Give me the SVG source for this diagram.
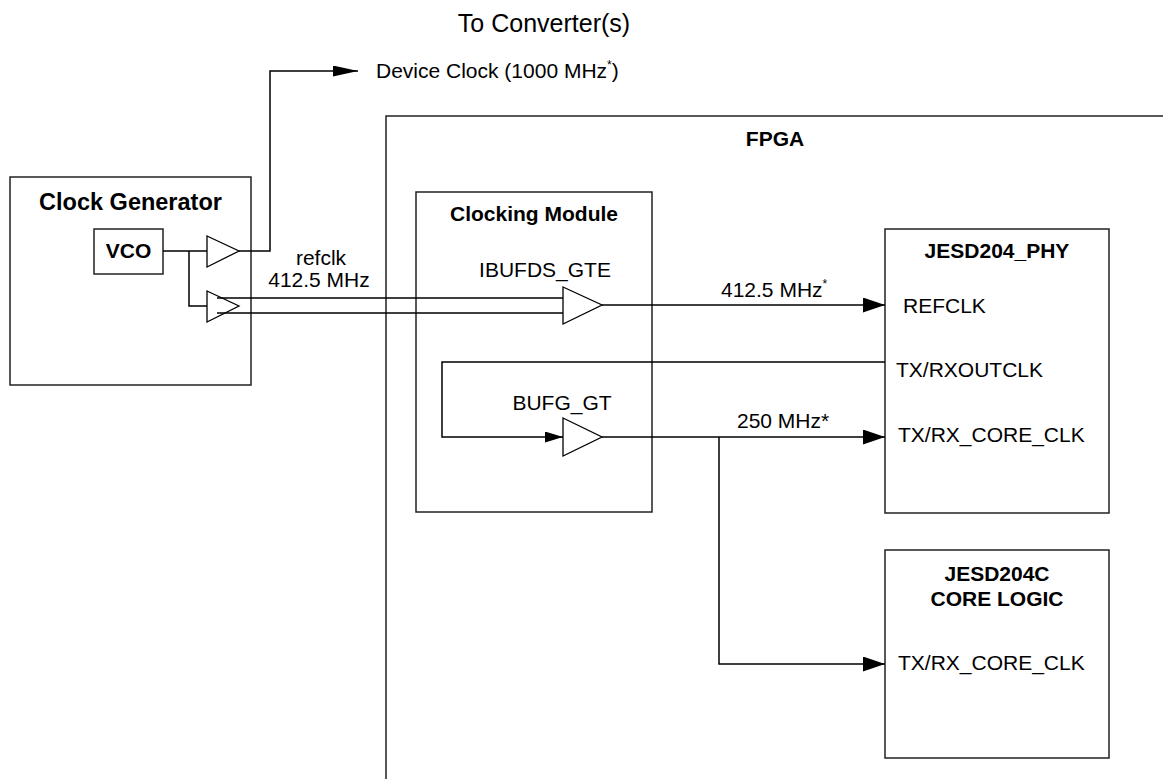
<svg xmlns="http://www.w3.org/2000/svg" width="1163" height="779" viewBox="0 0 1163 779">
<style>
text{font-family:"Liberation Sans",Arial,sans-serif;font-size:21px;fill:#000}
.b{font-weight:bold}
.box{fill:none;stroke:#222;stroke-width:1.5}
.w{fill:none;stroke:#000;stroke-width:1.5}
.buf{fill:#fff;stroke:#000;stroke-width:1.3}
.open{fill:none}
</style>
<defs>
<marker id="aL" viewBox="0 0 22 15" refX="22" refY="7.5" markerWidth="22" markerHeight="15" markerUnits="userSpaceOnUse" orient="auto"><path d="M0,0L22,7.5L0,15z" fill="#000"/></marker>
<marker id="aS" viewBox="0 0 18 11" refX="18" refY="5.5" markerWidth="18" markerHeight="11" markerUnits="userSpaceOnUse" orient="auto"><path d="M0,0L18,5.5L0,11z" fill="#000"/></marker>
<marker id="aD" viewBox="0 0 25 11" refX="25" refY="5.5" markerWidth="25" markerHeight="11" markerUnits="userSpaceOnUse" orient="auto"><path d="M0,0L25,5.5L0,11z" fill="#000"/></marker>
</defs>
<rect width="1163" height="779" fill="#fff"/>
<text x="544" y="32" text-anchor="middle" style="font-size:25px">To Converter(s)</text>
<text x="376" y="78">Device Clock (1000 MHz<tspan dy="-9" style="font-size:12px">*</tspan><tspan dy="9">)</tspan></text>
<g id="fpga">
<path class="box" d="M386,779V116H1163"/>
<text class="b" x="775" y="146" text-anchor="middle">FPGA</text>
</g>
<g id="clock-generator">
<rect class="box" x="10" y="177" width="241" height="208"/>
<text class="b" x="130.5" y="210" text-anchor="middle" style="font-size:23.5px">Clock Generator</text>
</g>
<g id="vco">
<rect class="box" x="94" y="229" width="69" height="45"/>
<text class="b" x="128.5" y="258" text-anchor="middle">VCO</text>
</g>
<g id="clocking-module">
<rect class="box" x="416" y="192" width="236" height="320"/>
<text class="b" x="534" y="221" text-anchor="middle">Clocking Module</text>
</g>
<g id="jesd204-phy">
<rect class="box" x="885" y="229" width="224" height="284"/>
<text class="b" x="997" y="258" text-anchor="middle">JESD204_PHY</text>
<text x="903" y="313">REFCLK</text>
<text x="896" y="377">TX/RXOUTCLK</text>
<text x="898" y="442">TX/RX_CORE_CLK</text>
</g>
<g id="jesd204c-core-logic">
<rect class="box" x="885" y="550" width="224" height="208"/>
<text class="b" x="997" y="581" text-anchor="middle">JESD204C</text>
<text class="b" x="997" y="606" text-anchor="middle">CORE LOGIC</text>
<text x="898" y="670">TX/RX_CORE_CLK</text>
</g>
<g id="connectors">
<path class="w" d="M163,251H207M189,251V306H207"/>
<path class="w" d="M239,251H270V71H358" marker-end="url(#aD)"/>
<path class="w" d="M217,298H563M217,313H563"/>
<path class="w" d="M602,305H885" marker-end="url(#aL)"/>
<path class="w" d="M885,362H442V437H563" marker-end="url(#aS)"/>
<path class="w" d="M602,437H885" marker-end="url(#aL)"/>
<path class="w" d="M719,437V664H885" marker-end="url(#aL)"/>
</g>
<g id="buffers">
<path class="buf" d="M207,236L239,251L207,267z"/>
<path class="buf open" d="M207,291L239,306L207,322z"/>
<path class="buf open" d="M563,287L602,305L563,324z"/>
<path class="buf" d="M563,418L602,437L563,456z"/>
<text x="545" y="277" text-anchor="middle">IBUFDS_GTE</text>
<text x="562" y="410" text-anchor="middle">BUFG_GT</text>
</g>
<g id="labels">
<text x="321" y="265" text-anchor="middle">refclk</text>
<text x="319" y="287" text-anchor="middle">412.5 MHz</text>
<text x="721" y="297">412.5 MHz<tspan dy="-9" style="font-size:12px">*</tspan></text>
<text x="737" y="428">250 MHz*</text>
</g>
</svg>
